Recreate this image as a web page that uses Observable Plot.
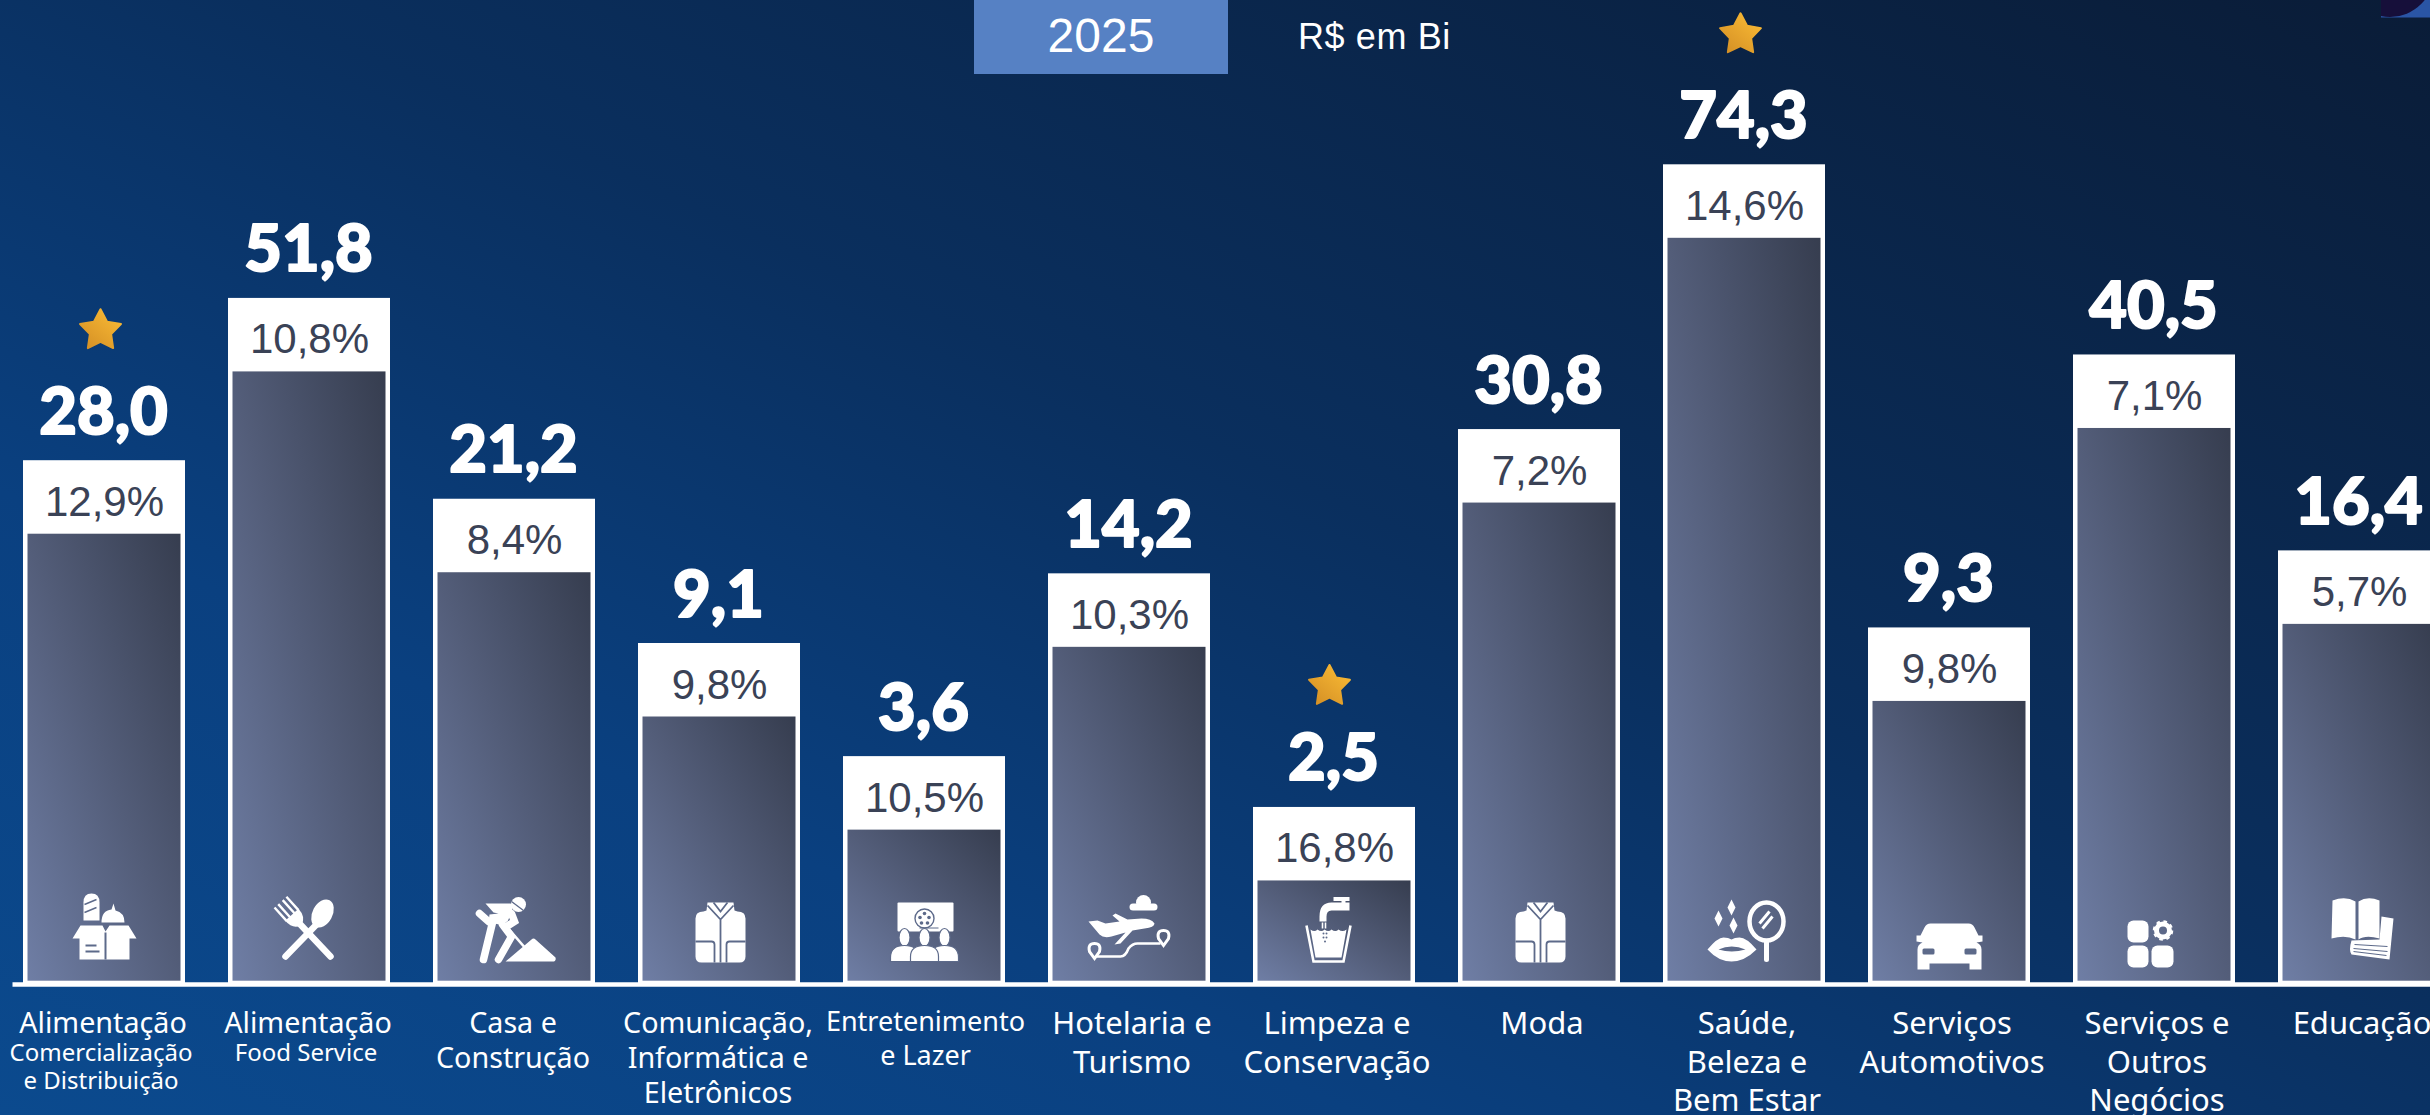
<!DOCTYPE html>
<html lang="pt-BR">
<head>
<meta charset="utf-8">
<title>2025 - R$ em Bi</title>
<script src="https://cdn.jsdelivr.net/npm/d3@7"></script>
<script src="https://cdn.jsdelivr.net/npm/@observablehq/plot@0.6"></script>
<style>
  html, body { margin: 0; padding: 0; width: 2430px; height: 1115px; overflow: hidden; }
  body { position: relative; background: linear-gradient(to top right, #0b4a8e 0%, #0a4080 28%, #0a2f5e 55%, #0a1c37 100%); }
  #chart svg { display: block; background: transparent; }
  #year { position: absolute; left: 974px; top: 0; width: 254px; height: 74px; background: #5681c4; color: #fff;
          font: 48px "Liberation Sans", Arial, sans-serif; text-align: center; line-height: 71px; }
  #unit { position: absolute; left: 1298px; top: 16px; color: #fff; font: 36px "Liberation Sans", Arial, sans-serif; letter-spacing: .6px; }
  #corner { position: absolute; right: 0; top: 0; }
</style>
</head>
<body>
<div id="chart"></div>
<div id="year">2025</div>
<div id="unit">R$ em Bi</div>
<svg id="corner" width="49" height="18" viewBox="2381 0 49 18">
  <rect x="2381" y="0" width="49" height="17.5" fill="#2a55a5"/>
  <circle cx="2390" cy="-27" r="44" fill="#160f3a"/>
</svg>
<script>
// ---- Data ----
const categories = ["Alimentação Comercialização", "Alimentação Food Service", "Casa e Construção",
  "Comunicação, Informática e Eletrônicos", "Entretenimento e Lazer", "Hotelaria e Turismo",
  "Limpeza e Conservação", "Moda", "Saúde, Beleza e Bem Estar", "Serviços Automotivos",
  "Serviços e Outros Negócios", "Educação"];
const values = ["28,0", "51,8", "21,2", "9,1", "3,6", "14,2", "2,5", "30,8", "74,3", "9,3", "40,5", "16,4"];
const growth = ["12,9%", "10,8%", "8,4%", "9,8%", "10,5%", "10,3%", "16,8%", "7,2%", "14,6%", "9,8%", "7,1%", "5,7%"];
// The reference's bars are not proportional to the printed values:
// this is each bar's drawn height, as a percentage of the tallest bar.
const drawnHeight = [63.9, 83.7, 59.2, 41.6, 27.8, 50.1, 21.6, 67.7, 100, 43.5, 76.8, 52.9];
const starred = ["Alimentação Comercialização", "Limpeza e Conservação", "Saúde, Beleza e Bem Estar"];
const compactLabels = ["Alimentação", "Alimentação", "Casa e\nConstrução", "Comunicação,\nInformática e\nEletrônicos",
  "", "", "", "", "", "", "", ""];
const openLabels = ["", "", "", "", "", "Hotelaria e\nTurismo", "Limpeza e\nConservação", "Moda", "Saúde,\nBeleza e\nBem Estar",
  "Serviços\nAutomotivos", "Serviços e\nOutros\nNegócios", "Educação"];
const subLabels = ["Comercialização\ne Distribuição", "Food Service", "", "", "", "", "", "", "", "", "", ""];
const tightLabels = ["", "", "", "", "Entretenimento\ne Lazer", "", "", "", "", "", "", ""];

// ---- Icons: white pictograms on a 100x100 square centred on the origin ----
const DK = "#5d6a8a";
const jacket = `<path d="M-24-12Q-24-19-16-19L-13-20L-12-28H14L15-20L18-19Q26-19 26-12V26Q26 32 20 32H-18Q-24 32-24 26Z"/>
  <g fill="none" stroke="${DK}" stroke-width="1.8"><path d="M-12-25L1-11L14-25M-6-28L1-19L8-28M1-11V32M-24 11H-8Q-5 11-5 14V32M26 11H10Q7 11 7 14V32"/></g>`;
const iconShapes = [
  `<path d="M-21-10V-28Q-21-37-13-37Q-5-37-5-28V-10Z"/><path d="M-20-26L-8-31M-20-18L-8-23" stroke="${DK}" stroke-width="1.5"/>
   <path d="M-3-8Q-3-20 7-21L9-27L11-20Q20-18 20-8Z"/>
   <path d="M-32 8L-24-5H-2L1 1L5-5H24L32 8H25V29H-25V8Z"/>
   <path d="M1 2V29M-19 15H-8M-19 21H-5" stroke="${DK}" stroke-width="2" fill="none"/>`,
  `<g transform="translate(-3,0)"><ellipse cx="16" cy="-17" rx="10" ry="15" transform="rotate(28 16 -17)"/>
   <path d="M10-6L-21 26" stroke="#fff" stroke-width="6.5" stroke-linecap="round"/>
   <path d="M-8-8L24 26" stroke="#fff" stroke-width="6.5" stroke-linecap="round"/>
   <g transform="translate(-14,-15) rotate(-42)"><path d="M-9-1Q-9 11 0 13Q9 11 9-1Z"/><path d="M-8-18V0M-3-18V0M3-18V0M8-18V0" stroke="#fff" stroke-width="2.4"/></g></g>`,
  `<circle cx="4" cy="-26" r="7.5"/><path d="M-3-29L9-20" stroke="${DK}" stroke-width="1.3"/>
   <path d="M-9 31L17 9Q19 7 21 9L41 27Q42 31 38 31Z"/>
   <path d="M-29-27H-4Q0-26-3-18L-7-9L-15-6L-26-8L-25-16L-16-17L-21-18Z"/>
   <path d="M-22-8L-31 29M-12-6L-3 6L-16 29M-26-9L-35-17M-3-17L0-9L-8-4" stroke="#fff" stroke-width="7.5" fill="none" stroke-linecap="round"/>
   <path d="M-8-4L12 19" stroke="#fff" stroke-width="2.6"/><path d="M-35-17L-26-9" stroke="#fff" stroke-width="3"/>`,
  jacket,
  `<rect x="-27" y="-28" width="56" height="29" rx="1"/>
   <circle cx="0" cy="-12" r="9.5" fill="none" stroke="${DK}" stroke-width="1.4"/>
   <g fill="${DK}"><circle cx="0" cy="-17" r="1.8"/><circle cx="-4.5" cy="-13" r="1.8"/><circle cx="4.5" cy="-13" r="1.8"/><circle cx="-3" cy="-7.5" r="1.8"/><circle cx="3" cy="-7.5" r="1.8"/></g>
   <path d="M-5-2.5H14" stroke="${DK}" stroke-width="1"/>
   <g stroke="${DK}" stroke-width="1.2"><ellipse cx="-20" cy="7" rx="5.5" ry="9"/><ellipse cx="0" cy="7" rx="5.5" ry="9"/><ellipse cx="20" cy="7" rx="5.5" ry="9"/>
   <path d="M-34 31V27Q-34 15-20 15Q-6 15-6 27V31Z"/><path d="M6 31V27Q6 15 20 15Q34 15 34 27V31Z"/><path d="M-14 31V26Q-14 15 0 15Q14 15 14 26V31Z"/></g>`,
  `<circle cx="14" cy="-28" r="7.5"/><rect x="0" y="-27" width="28" height="7" rx="3.5"/>
   <path d="M25-7Q22-12 12-12L-2-11L-14-17L-17-15L-10-9L-24-7L-32-10L-41-9L-30 4Q-26 8-18 6L-4 2L-15 14L-9 13L3 0L15-2Q25-3 25-7Z"/>
   <path d="M-33 26H-9Q-4 26-1 18Q3 13 8 13H31" fill="none" stroke="#fff" stroke-width="2.6"/>
   <path d="M-35 28L-40 21Q-42 13-35 13Q-28 13-30 21Z" fill="none" stroke="#fff" stroke-width="3"/>
   <path d="M34 15L29 8Q27 0 34 0Q41 0 39 8Z" fill="none" stroke="#fff" stroke-width="3"/>`,
  `<path d="M9-33V-27M-1-31.5H15" stroke="#fff" stroke-width="4"/>
   <path d="M15-28H-3Q-15-28-15-14V-9H-8V-14Q-8-20-3-20H15Z"/>
   <path d="M-28-5L-21 31H9L16-5" fill="none" stroke="#fff" stroke-width="2.6"/>
   <path d="M-24-1Q-20 2-17-1Q-13 2-10-1Q-6 2-3-1Q1 2 4-1Q8 2 12-1L7 27H-19Z"/>
   <path d="M-12-8V-2M-9-8V-2" stroke="#fff" stroke-width="1.6"/>
   <g fill="${DK}"><circle cx="-11" cy="3" r="1"/><circle cx="-8" cy="3" r="1"/><circle cx="-11" cy="7" r="1"/><circle cx="-8" cy="7" r="1"/><circle cx="-9.5" cy="11" r="1"/></g>`,
  jacket,
  `<ellipse cx="22" cy="-9" rx="17" ry="19" fill="none" stroke="#fff" stroke-width="4.5"/>
   <path d="M22 11V29" stroke="#fff" stroke-width="5" stroke-linecap="round"/>
   <path d="M15-7L25-19M18-2L28-14" stroke="#fff" stroke-width="3"/>
   <path d="M-37 19Q-27 7-21 7Q-16 7-13 9Q-10 7-5 7Q2 7 12 19Q0 31-13 31Q-26 31-37 19Z"/>
   <path d="M-26 19Q-13 13 1 19Q-13 23-26 19Z" fill="${DK}"/>
   <path d="M-13-31L-9-23L-13-15L-17-23Z M-26-20L-22-12L-26-4L-30-12Z M-11-13L-7-5L-11 3L-15-5Z"/>`,
  `<path d="M-19-7H19Q23-7 25-3L29 5H33V11L27 12Q32 14 32 19V39H20V33H-20V39H-32V19Q-32 14-27 12L-33 11V5H-29L-25-3Q-23-7-19-7Z"/>
   <rect x="-27" y="18" width="12" height="6" rx="1.5" fill="${DK}"/><rect x="15" y="18" width="12" height="6" rx="1.5" fill="${DK}"/>`,
  `<rect x="-27" y="-10" width="21" height="22" rx="6"/><rect x="-27" y="15" width="21" height="22" rx="6"/><rect x="-3" y="15" width="22" height="22" rx="6"/>
   <circle cx="8.5" cy="0" r="6.5" fill="none" stroke="#fff" stroke-width="5"/><circle cx="8.5" cy="0" r="9" fill="none" stroke="#fff" stroke-width="2.5" stroke-dasharray="3.5 3.6"/>`,
  `<path d="M22-14L34-12L30 29L-8 24Q-11 20-8 10L20 9Z"/>
   <path d="M-5 14L28 16M-6 18L28 21M-6 21L27 25" stroke="${DK}" stroke-width="1.2" fill="none"/>
   <path d="M-27-30Q-14-35-4-29V9Q-14 4-28 8Z"/><path d="M-1-29Q8-35 20-30V8Q6 4-1 9Z"/>
   <path d="M-2.5-29V9" stroke="${DK}" stroke-width="1.2"/>`
];
const iconURI = (s) => "data:image/svg+xml," + encodeURIComponent(
  `<svg xmlns="http://www.w3.org/2000/svg" viewBox="-50 -50 100 100" fill="#fff">${s}</svg>`);

const rows = categories.map((c, i) => ({
  category: c, value: values[i], growth: growth[i], height: drawnHeight[i],
  compact: compactLabels[i], open: openLabels[i], sub: subLabels[i], tight: tightLabels[i],
  icon: iconURI(iconShapes[i]), star: starred.includes(c)
}));

// A five-pointed star fatter than d3's, as in the reference.
const fatStar = {
  draw(context, size) {
    const R = Math.sqrt(size / Math.PI), r = R * 0.52;
    for (let i = 0; i < 10; ++i) {
      const a = -Math.PI / 2 + i * Math.PI / 5, k = i % 2 ? r : R;
      context[i ? "lineTo" : "moveTo"](k * Math.cos(a), k * Math.sin(a));
    }
    context.closePath();
  }
};
const starStyle = { x: "category", y: "height", symbol: fatStar, r: 21.5, fill: "url(#starGrad)", stroke: "url(#starGrad)", strokeWidth: 2, strokeLinejoin: "round" };
const labelFont = { x: "category", fill: "#fff", fontFamily: "'Noto Sans', sans-serif", frameAnchor: "top", lineAnchor: "top" };

const chart = Plot.plot({
  width: 2430, height: 1115,
  marginTop: 0, marginRight: 0, marginBottom: 0, marginLeft: 0,
  style: { background: "transparent", overflow: "hidden" },
  x: { domain: categories, range: [0.5, 2462.9], paddingInner: 0.21, paddingOuter: 0.105, axis: null },
  y: { domain: [0, 100], range: [984, 164.3], axis: null },
  marks: [
    Plot.barY(rows, { x: "category", y: "height", fill: "#fff" }),
    Plot.barY(rows, { x: "category", y: "height", fill: "url(#barGrad)", insetTop: 73.5, insetLeft: 4.5, insetRight: 4.5, insetBottom: 3.3 }),
    Plot.ruleY([0], { stroke: "#fff", strokeWidth: 4.4, insetLeft: 12.5 }),
    Plot.text(rows, { x: "category", y: "height", text: "value", fill: "#fff", stroke: "#fff", strokeWidth: 2, fontFamily: "Lato, sans-serif", fontWeight: 900, fontSize: 65, lineAnchor: "bottom", dy: -27, dx: -1 }),
    Plot.text(rows, { x: "category", y: "height", text: "growth", fill: "#3a4256", fontFamily: "'Liberation Sans', Arial, sans-serif", fontSize: 42, lineAnchor: "bottom", dy: 55 }),
    Plot.dot(rows.filter((d) => d.star && d.height > 30), { ...starStyle, dx: -4, dy: -130 }),
    Plot.dot(rows.filter((d) => d.star && d.height <= 30), { ...starStyle, dx: -5, dy: -121 }),
    Plot.image(rows, { x: "category", y: () => 0, src: "icon", width: 100, height: 100, dy: -54 }),
    Plot.text(rows, { ...labelFont, text: "compact", fontSize: 28.7, lineHeight: 1.215, dy: 1008, dx: -1.5 }),
    Plot.text(rows, { ...labelFont, text: "open", fontSize: 31, lineHeight: 1.255, dy: 1005.5, dx: 2.5 }),
    Plot.text(rows, { ...labelFont, text: "sub", fontSize: 24, lineHeight: 1.17, dy: 1040.5, dx: -3.5 }),
    Plot.text(rows, { ...labelFont, text: "tight", fontSize: 27, lineHeight: 1.26, dy: 1006, dx: 1 })
  ]
});
chart.insertAdjacentHTML("afterbegin", `<defs>
  <linearGradient id="barGrad" x1="0" y1="1" x2="1" y2="0">
    <stop offset="0" stop-color="#6f7ea5"/><stop offset="0.5" stop-color="#535d79"/><stop offset="1" stop-color="#363d4f"/>
  </linearGradient>
  <linearGradient id="starGrad" x1="0.1" y1="1" x2="0.9" y2="0.1">
    <stop offset="0" stop-color="#d48f25"/><stop offset="1" stop-color="#f8b934"/>
  </linearGradient>
</defs>`);
document.getElementById("chart").append(chart);
</script>
</body>
</html>
